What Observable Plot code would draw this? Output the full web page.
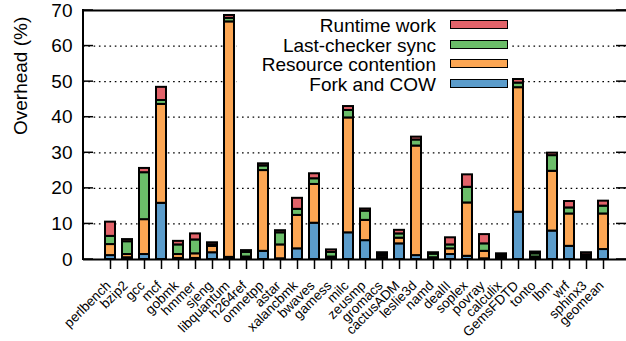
<!DOCTYPE html>
<html>
<head>
<meta charset="utf-8">
<script src="https://cdn.jsdelivr.net/npm/d3@7"></script>
<script src="https://cdn.jsdelivr.net/npm/@observablehq/plot@0.6"></script>
<style>
  body { margin: 0; background: #fff; overflow: hidden; }
  #chart { position: relative; width: 626px; height: 341px; font-family: "Liberation Sans", Arial, sans-serif; }
  #chart svg { display: block; }
  .legend { position: absolute; left: 237px; top: 12px; width: 275px; height: 81px; background: #fff; }
  .legend .row { position: absolute; left: 0; width: 275px; height: 19px; }
  .legend .label { position: absolute; right: 76px; top: 0; font-size: 19px; line-height: 19px; color: #000; white-space: nowrap; }
  .legend .swatch { position: absolute; left: 213px; top: 4px; width: 56px; height: 7px; border: 1.6px solid #000; }
</style>
</head>
<body>
<div id="chart"></div>
<script>
// SPEC CPU2006 benchmarks and the overhead breakdown (% of native run time)
const benchmarks = ["perlbench", "bzip2", "gcc", "mcf", "gobmk", "hmmer", "sjeng", "libquantum",
  "h264ref", "omnetpp", "astar", "xalancbmk", "bwaves", "gamess", "milc", "zeusmp", "gromacs",
  "cactusADM", "leslie3d", "namd", "dealII", "soplex", "povray", "calculix", "GemsFDTD", "tonto",
  "lbm", "wrf", "sphinx3", "geomean"];

const forkCow      = [1.1, 0.5, 1.4, 15.8, 0.3, 0.3, 1.9, 0.6, 0.3, 2.3, 0.2, 3.0, 10.2, 0.3, 7.5,
  5.3, 0.3, 4.4, 1.1, 0.2, 1.4, 0.9, 0.2, 0.3, 13.3, 0.3, 8.0, 3.7, 0.3, 2.8];
const contention   = [3.1, 0.9, 9.8, 27.8, 1.1, 1.3, 1.8, 66.2, 0.4, 22.7, 3.9, 9.4, 10.9, 0.4, 32.3,
  5.7, 0.6, 1.6, 30.8, 0.3, 1.6, 15.0, 2.1, 0.4, 35.0, 0.4, 16.8, 9.1, 0.5, 10.0];
const checkerSync  = [2.3, 3.6, 13.2, 1.1, 2.7, 3.9, 0.4, 1.0, 1.3, 1.3, 3.4, 1.7, 1.6, 1.3, 2.1,
  2.6, 0.5, 1.2, 1.7, 1.0, 1.1, 4.4, 2.1, 0.4, 1.3, 0.9, 4.4, 1.7, 0.5, 2.2];
const runtimeWork  = [4.0, 0.6, 1.2, 3.7, 1.0, 1.7, 0.6, 0.8, 0.5, 0.6, 0.6, 3.1, 1.4, 0.7, 1.1,
  0.6, 0.5, 1.0, 0.8, 0.4, 2.0, 3.5, 2.6, 0.5, 1.0, 0.5, 0.7, 1.8, 0.6, 1.4];

// stacking order: first entry at the bottom
const seriesNames  = ["Fork and COW", "Resource contention", "Last-checker sync", "Runtime work"];
const seriesColors = ["#5b9ccb", "#fca653", "#6bbd69", "#e2636a"];
const seriesValues = [forkCow, contention, checkerSync, runtimeWork];

const yTicks = [0, 10, 20, 30, 40, 50, 60, 70];
const gridTicks = [10, 20, 30, 40, 50, 60];

const rows = benchmarks.flatMap((bench, i) =>
  seriesNames.map((part, k) => ({bench, part, value: seriesValues[k][i]})));

// frame lines plus inward y ticks on both sides
function frameAndTicks(index, scales, values, dims) {
  const {y} = scales;
  const {width, height, marginLeft, marginRight, marginTop, marginBottom} = dims;
  const left = marginLeft, right = width - marginRight;
  const g = d3.create("svg:g").attr("stroke", "#000").attr("fill", "none");
  g.append("line").attr("x1", left).attr("x2", left)
    .attr("y1", marginTop - 1).attr("y2", height - marginBottom + 1).attr("stroke-width", 2);
  for (const t of yTicks) {
    const py = y(t);
    g.append("line").attr("x1", left).attr("x2", left + 10).attr("y1", py).attr("y2", py).attr("stroke-width", 1.5);
    g.append("line").attr("x1", right - 10).attr("x2", right).attr("y1", py).attr("y2", py).attr("stroke-width", 1.5);
  }
  return g.node();
}

const chart = Plot.plot({
  width: 626,
  height: 341,
  marginTop: 10,
  marginBottom: 82,
  marginLeft: 83,
  marginRight: 0,
  style: {fontFamily: "'Liberation Sans', Arial, sans-serif", background: "#fff", overflow: "visible"},
  x: {domain: benchmarks, range: [83, 629], paddingInner: 0.43, paddingOuter: 1.07},
  y: {domain: [0, 70]},
  color: {domain: seriesNames, range: seriesColors},
  marks: [
    Plot.gridY(gridTicks, {stroke: "#000", strokeOpacity: 1, strokeWidth: 1.2, strokeDasharray: "1.6,3.7"}),
    Plot.barY(rows, {x: "bench", y: "value", fill: "part", stroke: "#000", strokeWidth: 2, order: null}),
    Plot.ruleY([0, 70], {stroke: "#000", strokeWidth: 2}),
    frameAndTicks,
    Plot.axisY({ticks: yTicks, tickSize: 0, tickPadding: 11, fontSize: 19, label: null}),
    Plot.axisX({tickSize: 10, tickFormat: () => "", label: null, strokeWidth: 1.5}),
    Plot.text(benchmarks, {x: d => d, text: d => d, frameAnchor: "bottom", rotate: -45,
      textAnchor: "end", fontSize: 13.5, dx: 1, dy: 27}),
    Plot.text(["Overhead (%)"], {frameAnchor: "left", dx: -63, rotate: -90, fontSize: 19})
  ]
});

const root = document.getElementById("chart");
root.appendChild(chart);

// legend drawn as a boxed overlay, top entry = top of the stack
const legend = document.createElement("div");
legend.className = "legend";
seriesNames.slice().reverse().forEach((name, j) => {
  const k = seriesNames.length - 1 - j;
  const row = document.createElement("div");
  row.className = "row";
  row.style.top = (j * 19.5 + 4) + "px";
  const label = document.createElement("span");
  label.className = "label";
  label.textContent = name;
  const sw = document.createElement("span");
  sw.className = "swatch";
  sw.style.background = seriesColors[k];
  row.appendChild(label);
  row.appendChild(sw);
  legend.appendChild(row);
});
root.appendChild(legend);
</script>
</body>
</html>
